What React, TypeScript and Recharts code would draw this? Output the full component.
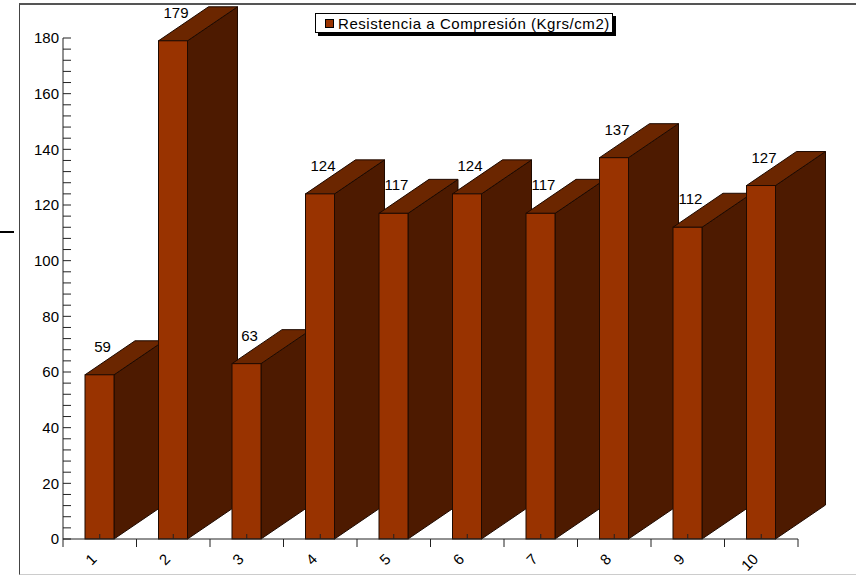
import React from 'react';
import { BarChart, Bar, XAxis, YAxis, Legend, LabelList } from 'recharts';

// Sample numbers along the x axis
const categories = ['1', '2', '3', '4', '5', '6', '7', '8', '9', '10'];
// Compressive strength per sample (Kgrs/cm2)
const resistencia = [59, 179, 63, 124, 117, 124, 117, 137, 112, 127];
// Labelled values on the y axis
const majorTicks = [0, 20, 40, 60, 80, 100, 120, 140, 160, 180];
const MINOR_STEP = 4;
const seriesName = 'Resistencia a Compresión (Kgrs/cm2)';

const data = categories.map((c, i) => ({ muestra: c, resistencia: resistencia[i] }));
const yTicks: number[] = [];
for (let v = 0; v <= majorTicks[majorTicks.length - 1]; v += MINOR_STEP) yTicks.push(v);

const CHART_W = 856;
const CHART_H = 576;
const MARGIN = { top: 38, right: 58, bottom: 7, left: 0 };
const Y_AXIS_W = 63;
const X_AXIS_H = 30;
const PLOT_W = CHART_W - MARGIN.left - MARGIN.right - Y_AXIS_W;

const FONT = "'Liberation Sans', Arial, sans-serif";
const FRONT = '#993300';
const TOP = '#6B2600';
const SIDE = '#4D1A00';
const EDGE = '#1F0A00';
const AXIS = '#222';
const DEPTH_X = 50;
const DEPTH_Y = 34;

// Box with an oblique side and top face behind the front rectangle
function Bar3D(props: any) {
  const { x, y, width, height } = props;
  if (height == null || width == null) return null;
  const r = x + width;
  const b = y + height;
  return (
    <g>
      <polygon
        points={`${r},${y} ${r + DEPTH_X},${y - DEPTH_Y} ${r + DEPTH_X},${b - DEPTH_Y} ${r},${b}`}
        fill={SIDE}
        stroke={EDGE}
        strokeWidth={1}
      />
      <polygon
        points={`${x},${y} ${x + DEPTH_X},${y - DEPTH_Y} ${r + DEPTH_X},${y - DEPTH_Y} ${r},${y}`}
        fill={TOP}
        stroke={EDGE}
        strokeWidth={1}
      />
      <rect x={x} y={y} width={width} height={height} fill={FRONT} stroke={EDGE} strokeWidth={1} />
    </g>
  );
}

function ValueLabel(props: any) {
  const { x, y, width, value } = props;
  return (
    <text
      x={x + width / 2 + 3}
      y={y - 23}
      textAnchor="middle"
      fontFamily={FONT}
      fontSize={15}
      fill="#000"
    >
      {value}
    </text>
  );
}

const X_TICK = 8;
function XTick(props: any) {
  const { x, y, payload, index } = props;
  const band = PLOT_W / categories.length;
  const axisY = y - X_TICK;
  return (
    <g>
      <line x1={x} x2={x} y1={axisY - 5} y2={axisY} stroke={AXIS} strokeWidth={1} />
      <line x1={x + band / 2} x2={x + band / 2} y1={axisY} y2={axisY + X_TICK} stroke={AXIS} strokeWidth={1} />
      {index === 0 && (
        <line x1={x - band / 2} x2={x - band / 2} y1={axisY} y2={axisY + X_TICK} stroke={AXIS} strokeWidth={1} />
      )}
      <text
        transform={`translate(${x - 2},${axisY + 21}) rotate(-45)`}
        textAnchor="end"
        fontFamily={FONT}
        fontSize={15}
        fill="#000"
      >
        {payload.value}
      </text>
    </g>
  );
}

const Y_TICK_GAP = 4;
function YTick(props: any) {
  const { x, y, payload } = props;
  const axisX = x + Y_TICK_GAP;
  const isMajor = majorTicks.includes(payload.value);
  return (
    <g>
      <line x1={axisX} x2={axisX + 8} y1={y} y2={y} stroke={AXIS} strokeWidth={1} />
      {isMajor && (
        <text x={x} y={y} dy="0.36em" textAnchor="end" fontFamily={FONT} fontSize={15} fill="#000">
          {payload.value}
        </text>
      )}
    </g>
  );
}

function LegendBox(props: any) {
  const entries = props.payload || [];
  return (
    <div>
      {entries.map((e: any) => (
        <div
          key={e.value}
          style={{
            boxSizing: 'border-box',
            width: 298,
            height: 20,
            border: '1px solid #000',
            background: '#fff',
            boxShadow: '3px 3px 0 #000',
            display: 'flex',
            alignItems: 'center',
            paddingLeft: 9,
            fontFamily: FONT,
            fontSize: 15,
            letterSpacing: 0.55,
            color: '#000',
            whiteSpace: 'nowrap',
          }}
        >
          <span
            style={{
              display: 'inline-block',
              boxSizing: 'border-box',
              width: 9,
              height: 9,
              background: FRONT,
              border: '1px solid #000',
              marginRight: 4,
            }}
          />
          {e.value}
        </div>
      ))}
    </div>
  );
}

export default function App() {
  return (
    <div
      style={{
        position: 'absolute',
        left: 0,
        top: 0,
        width: CHART_W,
        height: CHART_H,
        overflow: 'hidden',
        background: '#fff',
      }}
    >
      <div
        style={{
          position: 'absolute',
          left: 19,
          top: 3,
          width: CHART_W - 19,
          height: 572,
          boxSizing: 'border-box',
          borderLeft: '1px solid #444',
          borderTop: '2px solid #555',
          borderBottom: '1px solid #ccc',
        }}
      />
      <div
        style={{ position: 'absolute', left: 0, top: 231, width: 14, height: 2, background: '#000' }}
      />
      <div style={{ position: 'absolute', left: 0, top: 0 }}>
        <BarChart width={CHART_W} height={CHART_H} data={data} margin={MARGIN} barSize={29}>
          <Legend
            layout="horizontal"
            verticalAlign="middle"
            align="center"
            content={<LegendBox />}
            wrapperStyle={{ position: 'absolute', top: 13, left: 315, width: 'auto', height: 'auto' }}
          />
          <Bar
            dataKey="resistencia"
            name={seriesName}
            fill={FRONT}
            shape={<Bar3D />}
            isAnimationActive={false}
          >
            <LabelList dataKey="resistencia" content={<ValueLabel />} />
          </Bar>
          <XAxis
            dataKey="muestra"
            height={X_AXIS_H}
            tickLine={false}
            tickSize={X_TICK}
            tickMargin={0}
            axisLine={{ stroke: AXIS, strokeWidth: 1 }}
            interval={0}
            tick={<XTick />}
          />
          <YAxis
            width={Y_AXIS_W}
            domain={[0, 180]}
            ticks={yTicks}
            interval={0}
            tickLine={false}
            tickSize={Y_TICK_GAP}
            tickMargin={0}
            axisLine={{ stroke: AXIS, strokeWidth: 1 }}
            tick={<YTick />}
          />
        </BarChart>
      </div>
    </div>
  );
}
